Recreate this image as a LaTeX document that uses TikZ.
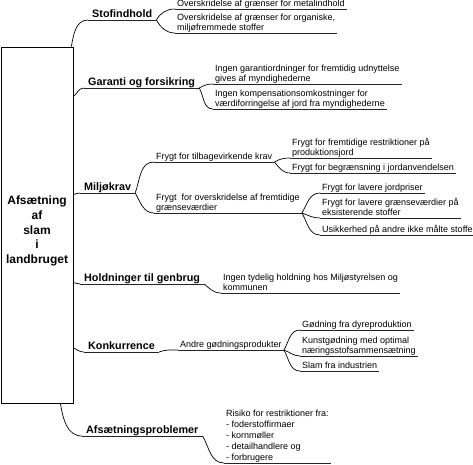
\documentclass[tikz,border=0pt]{standalone}
\usepackage{fontspec}
\setmainfont{Liberation Sans}
\usetikzlibrary{positioning}

\begin{document}
\begin{tikzpicture}[x=1pt, y=1pt,
  topic/.style={anchor=south west, font=\bfseries\fontsize{10.8}{13}\selectfont, inner xsep=4pt, inner ysep=0.5pt, execute at end node=\vphantom{g}},
  item/.style={anchor=south west, font=\fontsize{9}{10.6}\selectfont, align=left, inner xsep=2pt, inner ysep=0.3pt, execute at end node=\vphantom{g}},
  rule/.style={line width=0.7pt, black!85},
  twig/.style={line width=0.7pt}]
\useasboundingbox (0,0) rectangle (473,-464);

% Central box
\node[draw, line width=0.7pt, minimum width=72pt, minimum height=356pt] (box) at (37,-225) {};
\node[align=center, font=\bfseries\fontsize{12}{14.7}\selectfont] (title) at (37,-231) {Afsætning\\af\\slam\\i\\landbruget};

% Main topics
\node[topic] (stof) at (88,-20) {Stofindhold};
\node[topic] (gar) at (84,-88) {Garanti og forsikring};
\node[topic] (milj) at (80,-193) {Miljøkrav};
\node[topic] (hold) at (80,-284) {Holdninger til genbrug};
\node[topic] (konk) at (84,-352) {Konkurrence};
\node[topic] (afs) at (82,-436) {Afsætningsproblemer};

% Stofindhold
\node[item] (s1) at (175,-9) {Overskridelse af grænser for metalindhold};
\node[item] (s2) at (175,-33) {Overskridelse af grænser for organiske,\\miljøfremmede stoffer};

% Garanti og forsikring
\node[item] (g1) at (213,-84) {Ingen garantiordninger for fremtidig udnyttelse\\gives af myndighederne};
\node[item] (g2) at (213,-109) {Ingen kompensationsomkostninger for\\værdiforringelse af jord fra myndighederne};

% Miljøkrav
\node[item] (m1) at (154,-162) {Frygt for tilbagevirkende krav};
\node[item] (m2) at (154,-213) {Frygt~ for overskridelse af fremtidige\\grænseværdier};
\node[item] (m11) at (290,-158) {Frygt for fremtidige restriktioner på\\produktionsjord};
\node[item] (m12) at (290,-173) {Frygt for begrænsning i jordanvendelsen};
\node[item] (m21) at (320,-193) {Frygt for lavere jordpriser};
\node[item] (m22) at (320,-218) {Frygt for lavere grænseværdier på\\eksisterende stoffer};
\node[item] (m23) at (320,-235) {Usikkerhed på andre ikke målte stoffer};

% Holdninger til genbrug
\node[item] (h1) at (221,-293) {Ingen tydelig holdning hos Miljøstyrelsen og\\kommunen};

% Konkurrence
\node[item] (k1) at (178,-350) {Andre gødningsprodukter};
\node[item] (k11) at (300,-330) {Gødning fra dyreproduktion};
\node[item] (k12) at (300,-356) {Kunstgødning med optimal\\næringsstofsammensætning};
\node[item] (k13) at (300,-371) {Slam fra industrien};

% Afsætningsproblemer
\node[item, font=\fontsize{9}{11}\selectfont] (a1) at (224,-463) {Risiko for restriktioner fra:\\- foderstoffirmaer\\- kornmøller\\- detailhandlere og\\- forbrugere};

% Underlines
\foreach \n in {stof,gar,milj,hold,konk,afs,s1,s2,g1,g2,m1,m2,m11,m12,m21,m22,m23,h1,k1,k11,k12,k13,a1}
  \draw[rule] (\n.south west) -- (\n.south east);

% Box to topics
\draw[twig] ([xshift=-2pt]box.north east) to[out=80,in=180] (stof.south west);
\draw[twig] ([yshift=-50pt]box.north east) to[out=40,in=180] (gar.south west);
\draw[twig] ([yshift=-148pt]box.north east) to[out=20,in=180] (milj.south west);
\draw[twig] ([yshift=-236pt]box.north east) to[out=0,in=180] (hold.south west);
\draw[twig] ([yshift=-301pt]box.north east) to[out=-30,in=180] (konk.south west);
\draw[twig] ([xshift=-13pt]box.south east) to[out=-80,in=180] (afs.south west);

% Topics to items
\draw[twig] (stof.south east) to[out=60,in=180] (s1.south west);
\draw[twig] (stof.south east) to[out=-60,in=180] (s2.south west);
\draw[twig] (gar.south east) to[out=30,in=180] (g1.south west);
\draw[twig] (gar.south east) to[out=-60,in=180] (g2.south west);
\draw[twig] (milj.south east) to[out=70,in=180] (m1.south west);
\draw[twig] (milj.south east) to[out=-60,in=180] (m2.south west);
\draw[twig] (m1.south east) to[out=30,in=180] (m11.south west);
\draw[twig] (m1.south east) to[out=-50,in=180] (m12.south west);
\draw[twig] (m2.south east) to[out=60,in=180] (m21.south west);
\draw[twig] (m2.south east) to[out=-20,in=180] (m22.south west);
\draw[twig] (m2.south east) to[out=-60,in=180] (m23.south west);
\draw[twig] (hold.south east) to[out=-40,in=180] (h1.south west);
\draw[twig] (konk.south east) to[out=20,in=180] (k1.south west);
\draw[twig] (k1.south east) to[out=60,in=180] (k11.south west);
\draw[twig] (k1.south east) to[out=-20,in=180] (k12.south west);
\draw[twig] (k1.south east) to[out=-60,in=180] (k13.south west);
\draw[twig] (afs.south east) to[out=-60,in=180] (a1.south west);

\end{tikzpicture}
\end{document}
